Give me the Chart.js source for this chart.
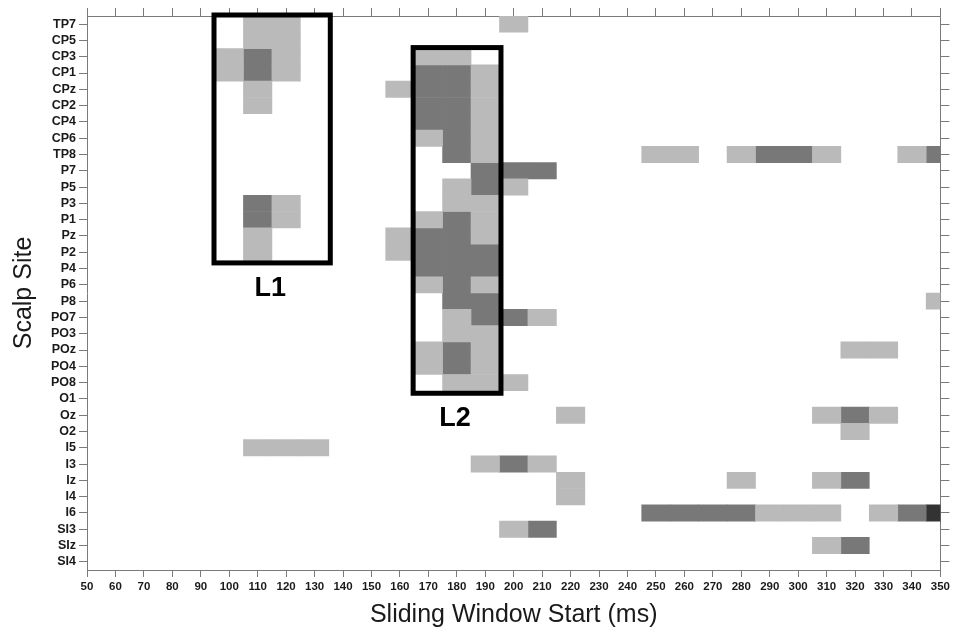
<!DOCTYPE html>
<html>
<head>
<meta charset="utf-8">
<title>Scalp site by sliding window</title>
<script src="https://cdn.jsdelivr.net/npm/chart.js@4/dist/chart.umd.min.js"></script>
<style>
  html, body { margin: 0; padding: 0; background: #fff; }
  canvas { display: block; }
</style>
</head>
<body>
<canvas id="siteChart" width="953" height="635"></canvas>
<script>
// electrode sites, top to bottom
const sites = ["TP7", "CP5", "CP3", "CP1", "CPz", "CP2", "CP4", "CP6", "TP8", "P7", "P5", "P3", "P1", "Pz",
  "P2", "P4", "P6", "P8", "PO7", "PO3", "POz", "PO4", "PO8", "O1", "Oz", "O2", "I5", "I3", "Iz", "I4",
  "I6", "SI3", "SIz", "SI4"];

// window starts (ms) flagged at each site, one list per shade
const lightCells = [
  ["TP7", [110, 120, 200]],
  ["CP5", [110, 120]],
  ["CP3", [100, 120, 170, 180]],
  ["CP1", [100, 120, 190]],
  ["CPz", [110, 160, 190]],
  ["CP2", [110, 190]],
  ["CP4", [190]],
  ["CP6", [170, 190]],
  ["TP8", [190, 250, 260, 280, 310, 340]],
  ["P5", [180, 200]],
  ["P3", [120, 180, 190]],
  ["P1", [120, 170, 190]],
  ["Pz", [110, 160, 190]],
  ["P2", [110, 160]],
  ["P6", [170, 190]],
  ["P8", [350]],
  ["PO7", [180, 210]],
  ["PO3", [180, 190]],
  ["POz", [170, 190, 320, 330]],
  ["PO4", [170, 190]],
  ["PO8", [180, 190, 200]],
  ["Oz", [220, 310, 330]],
  ["O2", [320]],
  ["I5", [110, 120, 130]],
  ["I3", [190, 210]],
  ["Iz", [220, 280, 310]],
  ["I4", [220]],
  ["I6", [290, 300, 310, 330]],
  ["SI3", [200]],
  ["SIz", [310]]
];

const darkCells = [
  ["CP3", [110]],
  ["CP1", [110, 170, 180]],
  ["CPz", [170, 180]],
  ["CP2", [170, 180]],
  ["CP4", [170, 180]],
  ["CP6", [180]],
  ["TP8", [180, 290, 300, 350]],
  ["P7", [190, 200, 210]],
  ["P5", [190]],
  ["P3", [110]],
  ["P1", [110, 180]],
  ["Pz", [170, 180]],
  ["P2", [170, 180, 190]],
  ["P4", [170, 180, 190]],
  ["P6", [180]],
  ["P8", [180, 190]],
  ["PO7", [190, 200]],
  ["POz", [180]],
  ["PO4", [180]],
  ["Oz", [320]],
  ["I3", [200]],
  ["Iz", [320]],
  ["I6", [250, 260, 270, 280, 340]],
  ["SI3", [210]],
  ["SIz", [320]]
];

const darkestCells = [
  ["I6", [350]]
];

// outlined latency regions: window range (ms) and first/last site
const regionNames = ["L1", "L2"];
const regionStart = [95, 165];
const regionEnd = [135, 195];
const regionTop = ["TP7", "CP3"];
const regionBottom = ["P2", "PO8"];

const windowStep = 10;
const fontFamily = "Arial, 'Liberation Sans', Helvetica, sans-serif";
const axisColor = "#7a7a7a";

function toBars(cells) {
  const out = [];
  cells.forEach(([site, starts]) => {
    starts.forEach(ms => out.push({ y: site, x: [ms - windowStep / 2, ms + windowStep / 2] }));
  });
  return out;
}

function fixSize(prop, size) {
  return scale => { scale[prop] = size; };
}

const regionBoxes = {
  id: "regionBoxes",
  afterDatasetsDraw(chart) {
    const { ctx, scales: { x, y } } = chart;
    const half = Math.abs(y.getPixelForValue(1) - y.getPixelForValue(0)) / 2;
    ctx.save();
    ctx.strokeStyle = "#000";
    ctx.lineWidth = 5;
    ctx.lineJoin = "miter";
    regionNames.forEach((name, i) => {
      const left = x.getPixelForValue(regionStart[i]) - 1;
      const right = x.getPixelForValue(regionEnd[i]) + 1.5;
      const top = y.getPixelForValue(sites.indexOf(regionTop[i])) - half - 1;
      const bottom = y.getPixelForValue(sites.indexOf(regionBottom[i])) + half + 2.5;
      ctx.strokeRect(left, top, right - left, bottom - top);

      ctx.fillStyle = "#000";
      ctx.font = "bold 27px " + fontFamily;
      ctx.textAlign = "center";
      ctx.textBaseline = "top";
      ctx.fillText(name, (left + right) / 2 - 2, bottom + 12);
    });
    ctx.restore();
  }
};

const hiddenTicks = { display: false };
const edgeGrid = len => ({
  display: true,
  drawOnChartArea: false,
  drawTicks: true,
  tickLength: len,
  color: axisColor,
  offset: false
});

new Chart(document.getElementById("siteChart"), {
  type: "bar",
  data: {
    labels: sites,
    datasets: [
      { data: toBars(lightCells), backgroundColor: "#bababa" },
      { data: toBars(darkCells), backgroundColor: "#787878" },
      { data: toBars(darkestCells), backgroundColor: "#333333" }
    ]
  },
  options: {
    indexAxis: "y",
    responsive: false,
    animation: false,
    layout: { padding: 0 },
    datasets: {
      bar: {
        grouped: false,
        barPercentage: 1,
        categoryPercentage: 1,
        borderWidth: 0
      }
    },
    plugins: {
      legend: { display: false },
      tooltip: { enabled: false }
    },
    scales: {
      x: {
        type: "linear",
        position: "bottom",
        min: 50,
        max: 350,
        grid: edgeGrid(7),
        border: { color: axisColor, width: 1 },
        ticks: {
          stepSize: 10,
          autoSkip: false,
          maxRotation: 0,
          padding: 3,
          color: "#1a1a1a",
          font: { family: fontFamily, size: 11.5, weight: "bold" }
        },
        title: {
          display: true,
          text: "Sliding Window Start (ms)",
          color: "#1a1a1a",
          padding: { top: 0, bottom: 5 },
          font: { family: fontFamily, size: 25 }
        },
        afterFit: fixSize("height", 65)
      },
      x2: {
        type: "linear",
        position: "top",
        min: 50,
        max: 350,
        grid: edgeGrid(8),
        border: { color: axisColor, width: 1 },
        ticks: Object.assign({ stepSize: 10, autoSkip: false }, hiddenTicks),
        afterFit: fixSize("height", 16)
      },
      y: {
        type: "category",
        position: "left",
        offset: true,
        grid: edgeGrid(8),
        border: { color: axisColor, width: 1 },
        ticks: {
          autoSkip: false,
          padding: 3,
          color: "#1a1a1a",
          font: { family: fontFamily, size: 12.5, weight: "bold" }
        },
        title: {
          display: true,
          text: "Scalp Site",
          color: "#1a1a1a",
          padding: { top: 9, bottom: 0 },
          font: { family: fontFamily, size: 25 }
        },
        afterFit: fixSize("width", 87)
      },
      y2: {
        type: "category",
        position: "right",
        labels: sites,
        offset: true,
        grid: edgeGrid(9),
        border: { color: axisColor, width: 1 },
        ticks: Object.assign({ autoSkip: false }, hiddenTicks),
        afterFit: fixSize("width", 12)
      }
    }
  },
  plugins: [regionBoxes]
});
</script>
</body>
</html>
